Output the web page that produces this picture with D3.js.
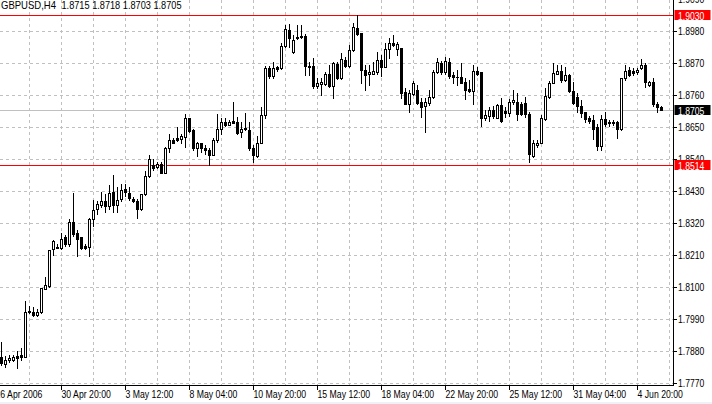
<!DOCTYPE html>
<html><head><meta charset="utf-8">
<script src="https://cdn.jsdelivr.net/npm/d3@7"></script>
<style>
html,body{margin:0;padding:0;background:#fff;overflow:hidden}
svg{display:block}
text{font-family:"Liberation Sans",Arial,sans-serif;font-size:11px}
</style></head><body>
<svg id="c" width="712" height="404"></svg>
<script>
const symbol = "GBPUSD,H4";
const opens = [1.7856,1.7833,1.7844,1.7846,1.7859,1.7861,1.7856,1.8015,1.8009,1.7999,
1.8010,1.8090,1.8098,1.8225,1.8232,1.8231,1.8267,1.8243,1.8318,1.8281,
1.8267,1.8236,1.8234,1.8331,1.8364,1.8379,1.8393,1.8375,1.8422,1.8379,
1.8399,1.8431,1.8420,1.8398,1.8390,1.8364,1.8414,1.8477,1.8514,1.8509,
1.8520,1.8488,1.8572,1.8600,1.8608,1.8603,1.8612,1.8675,1.8635,1.8572,
1.8589,1.8574,1.8566,1.8550,1.8600,1.8640,1.8662,1.8654,1.8667,1.8663,
1.8628,1.8640,1.8635,1.8575,1.8546,1.8592,1.8686,1.8847,1.8821,1.8850,
1.8847,1.8923,1.8978,1.8904,1.8956,1.8953,1.8959,1.8855,1.8855,1.8786,
1.8793,1.8793,1.8829,1.8786,1.8862,1.8812,1.8875,1.8856,1.8910,1.8984,
1.8967,1.8841,1.8826,1.8829,1.8835,1.8875,1.8852,1.8912,1.8935,1.8912,
1.8915,1.8766,1.8724,1.8758,1.8772,1.8732,1.8717,1.8729,1.8747,1.8835,
1.8866,1.8835,1.8870,1.8824,1.8818,1.8818,1.8801,1.8777,1.8770,1.8837,
1.8835,1.8675,1.8683,1.8703,1.8678,1.8721,1.8700,1.8692,1.8730,1.8732,
1.8726,1.8729,1.8690,1.8545,1.8585,1.8592,1.8672,1.8749,1.8797,1.8829,
1.8839,1.8807,1.8824,1.8770,1.8749,1.8717,1.8698,1.8675,1.8669,1.8644,
1.8580,1.8672,1.8658,1.8663,1.8663,1.8637,1.8812,1.8841,1.8837,1.8835,
1.8847,1.8858,1.8789,1.8799,1.8724,1.8715];
const highs = [1.7909,1.7858,1.7864,1.7864,1.7878,1.7888,1.8048,1.8031,1.8027,1.8021,
1.8094,1.8131,1.8222,1.8259,1.8245,1.8282,1.8274,1.8328,1.8419,1.8291,
1.8268,1.8243,1.8333,1.8394,1.8393,1.8423,1.8415,1.8446,1.8480,1.8438,
1.8449,1.8449,1.8438,1.8406,1.8399,1.8417,1.8495,1.8549,1.8537,1.8526,
1.8526,1.8577,1.8623,1.8606,1.8646,1.8623,1.8690,1.8678,1.8640,1.8595,
1.8592,1.8583,1.8575,1.8606,1.8690,1.8678,1.8675,1.8669,1.8732,1.8680,
1.8663,1.8695,1.8663,1.8583,1.8614,1.8715,1.8855,1.8856,1.8867,1.8856,
1.8935,1.8996,1.8999,1.8961,1.8996,1.8996,1.8965,1.8870,1.8881,1.8812,
1.8812,1.8835,1.8858,1.8870,1.8870,1.8898,1.8887,1.8927,1.9004,1.9030,
1.8969,1.8858,1.8858,1.8870,1.8904,1.8892,1.8933,1.8950,1.8961,1.8936,
1.8915,1.8778,1.8772,1.8804,1.8789,1.8744,1.8744,1.8772,1.8841,1.8881,
1.8873,1.8887,1.8881,1.8835,1.8841,1.8864,1.8812,1.8807,1.8858,1.8852,
1.8835,1.8703,1.8715,1.8717,1.8726,1.8744,1.8715,1.8741,1.8774,1.8763,
1.8732,1.8749,1.8698,1.8600,1.8600,1.8686,1.8778,1.8804,1.8866,1.8858,
1.8858,1.8850,1.8829,1.8801,1.8761,1.8738,1.8698,1.8683,1.8686,1.8655,
1.8686,1.8698,1.8669,1.8669,1.8666,1.8812,1.8858,1.8852,1.8847,1.8847,
1.8878,1.8864,1.8804,1.8812,1.8732,1.8718];
const lows = [1.7830,1.7821,1.7838,1.7842,1.7819,1.7844,1.7856,1.8007,1.7998,1.7998,
1.8008,1.8088,1.8096,1.8205,1.8231,1.8228,1.8238,1.8236,1.8270,1.8202,
1.8225,1.8228,1.8202,1.8307,1.8348,1.8371,1.8352,1.8365,1.8354,1.8354,
1.8391,1.8408,1.8394,1.8387,1.8333,1.8362,1.8412,1.8473,1.8499,1.8505,
1.8486,1.8486,1.8560,1.8589,1.8598,1.8589,1.8577,1.8629,1.8566,1.8546,
1.8560,1.8552,1.8514,1.8549,1.8595,1.8623,1.8650,1.8652,1.8658,1.8623,
1.8612,1.8635,1.8568,1.8526,1.8543,1.8589,1.8678,1.8812,1.8812,1.8839,
1.8843,1.8921,1.8921,1.8898,1.8946,1.8950,1.8824,1.8824,1.8781,1.8778,
1.8755,1.8789,1.8784,1.8744,1.8809,1.8809,1.8852,1.8852,1.8907,1.8961,
1.8797,1.8772,1.8789,1.8827,1.8829,1.8820,1.8850,1.8881,1.8923,1.8892,
1.8744,1.8724,1.8698,1.8755,1.8726,1.8680,1.8629,1.8721,1.8744,1.8832,
1.8827,1.8829,1.8812,1.8795,1.8789,1.8795,1.8740,1.8766,1.8726,1.8824,
1.8648,1.8669,1.8667,1.8675,1.8675,1.8663,1.8680,1.8683,1.8726,1.8669,
1.8686,1.8680,1.8526,1.8543,1.8577,1.8589,1.8669,1.8744,1.8795,1.8827,
1.8801,1.8804,1.8766,1.8726,1.8698,1.8680,1.8663,1.8660,1.8603,1.8568,
1.8566,1.8648,1.8648,1.8652,1.8609,1.8635,1.8807,1.8820,1.8824,1.8827,
1.8843,1.8784,1.8786,1.8717,1.8698,1.8703];
const closes = [1.7835,1.7844,1.7852,1.7856,1.7853,1.7856,1.8012,1.8009,1.7999,1.8012,
1.8092,1.8102,1.8222,1.8255,1.8231,1.8261,1.8245,1.8321,1.8277,1.8261,
1.8230,1.8230,1.8331,1.8362,1.8380,1.8393,1.8373,1.8420,1.8379,1.8396,
1.8430,1.8423,1.8400,1.8390,1.8365,1.8415,1.8478,1.8537,1.8506,1.8518,
1.8488,1.8572,1.8600,1.8591,1.8600,1.8614,1.8675,1.8632,1.8572,1.8589,
1.8572,1.8566,1.8549,1.8600,1.8640,1.8663,1.8653,1.8664,1.8660,1.8625,
1.8639,1.8641,1.8572,1.8549,1.8592,1.8686,1.8847,1.8820,1.8847,1.8843,
1.8923,1.8981,1.8950,1.8944,1.8950,1.8959,1.8855,1.8852,1.8786,1.8795,
1.8799,1.8829,1.8786,1.8864,1.8812,1.8878,1.8856,1.8910,1.8988,1.8965,
1.8841,1.8824,1.8835,1.8837,1.8875,1.8852,1.8912,1.8935,1.8928,1.8930,
1.8761,1.8726,1.8761,1.8795,1.8729,1.8715,1.8732,1.8747,1.8835,1.8870,
1.8835,1.8872,1.8821,1.8816,1.8816,1.8797,1.8772,1.8770,1.8837,1.8829,
1.8675,1.8686,1.8703,1.8683,1.8721,1.8667,1.8692,1.8730,1.8738,1.8690,
1.8690,1.8690,1.8554,1.8592,1.8592,1.8675,1.8752,1.8797,1.8832,1.8839,
1.8807,1.8824,1.8770,1.8729,1.8717,1.8694,1.8672,1.8667,1.8638,1.8580,
1.8672,1.8655,1.8663,1.8658,1.8637,1.8812,1.8839,1.8824,1.8832,1.8841,
1.8858,1.8799,1.8801,1.8724,1.8713,1.8705];
const priceTicks = [1.7770,1.7880,1.7990,1.8100,1.8210,1.8320,1.8430,1.8540,1.8650,1.8760,1.8870,1.8980,1.9090];
const timeTickBars = [15,31,47,63,79,95,111,127,143,159];
const timeTickLabels = ["30 Apr 20:00","3 May 12:00","8 May 04:00","10 May 20:00","15 May 12:00","18 May 04:00","22 May 20:00","25 May 12:00","31 May 04:00","4 Jun 20:00"];
const firstDateLabel = "26 Apr 2006";
const gridBars = [7,15,23,31,39,47,55,63,71,79,87,95,103,111,119,127,135,143,151,159,167];
const levelLines = [1.9030, 1.8514];
const bidPrice = 1.8705;

const svg = d3.select("#c");
const n = opens.length;
const x = d3.scaleLinear().domain([0, n - 1]).range([1.5, 1.5 + 4 * (n - 1)]);
const y = d3.scaleLinear().domain([1.7770, 1.9030]).range([382.5, 15.5]);
const yAxisScale = y.copy().range([383, 16]).interpolate(d3.interpolateRound);
const xAxisScale = x.copy().range([1, 4 * (n - 1) + 1]);
const plotRight = 673, axisY = 385;
const fmt = d3.format(".4f");

function squeeze(sel, k) {
  sel.each(function () {
    const w = this.getComputedTextLength();
    d3.select(this).attr("textLength", (w * k).toFixed(1)).attr("lengthAdjust", "spacingAndGlyphs");
  });
}

svg.append("rect").attr("width",712).attr("height",404).attr("fill","#fff");

// grid
const grid = svg.append("g").attr("stroke","#c0c0c0").attr("stroke-dasharray","3,3").attr("shape-rendering","crispEdges");
grid.selectAll(".gx").data(gridBars).join("line").attr("class","gx")
  .attr("x1", d => xAxisScale(d) + 0.5).attr("x2", d => xAxisScale(d) + 0.5)
  .attr("y1", 0).attr("y2", axisY);
grid.selectAll(".gy").data(priceTicks).join("line").attr("class","gy")
  .attr("x1", 0).attr("x2", plotRight)
  .attr("y1", d => yAxisScale(d) + 0.5).attr("y2", d => yAxisScale(d) + 0.5);

// level lines & bid line
const pixRow = v => Math.round(y(v) - 0.5) + 0.5;
svg.append("g").attr("class","levels").selectAll("line").data(levelLines).join("line")
  .attr("x1",0).attr("x2",plotRight).attr("y1",d => pixRow(d)).attr("y2",d => pixRow(d))
  .style("stroke","#ff0000").style("stroke-width","1px").attr("shape-rendering","crispEdges");
svg.append("line").attr("x1",0).attr("x2",plotRight)
  .attr("y1",pixRow(bidPrice)).attr("y2",pixRow(bidPrice))
  .style("stroke","#c0c0c0").attr("shape-rendering","crispEdges");

// candles
const bars = d3.range(n).map(i => ({i, o: opens[i], h: highs[i], l: lows[i], c: closes[i]}));
const cg = svg.append("g").attr("shape-rendering","crispEdges");
const py = v => Math.round(y(v) - 0.5);
cg.selectAll(".wick").data(bars).join("line").attr("class","wick")
  .attr("x1", d => x(d.i)).attr("x2", d => x(d.i))
  .attr("y1", d => py(d.h)).attr("y2", d => py(d.l) + 1)
  .attr("stroke","#000");
cg.selectAll(".body").data(bars).join("rect").attr("class","body")
  .each(function(d){
    const top = py(Math.max(d.o, d.c)), bot = py(Math.min(d.o, d.c));
    const s = d3.select(this);
    if (d.c >= d.o && bot > top) {
      s.attr("x", x(d.i) - 1).attr("y", top + 0.5).attr("width", 2).attr("height", bot - top)
       .attr("fill","#fff").attr("stroke","#000");
    } else {
      s.attr("x", x(d.i) - 1.5).attr("y", top).attr("width", 3).attr("height", bot - top + 1)
       .attr("fill","#000");
    }
  });

// axes lines
svg.append("line").attr("x1",plotRight+0.5).attr("x2",plotRight+0.5).attr("y1",0).attr("y2",axisY+1)
  .attr("stroke","#000").attr("shape-rendering","crispEdges");
svg.append("line").attr("x1",0).attr("x2",plotRight+1).attr("y1",axisY+0.5).attr("y2",axisY+0.5)
  .attr("stroke","#000").attr("shape-rendering","crispEdges");

// right axis
const ya = svg.append("g").attr("transform",`translate(${plotRight+1},0)`)
  .call(d3.axisRight(yAxisScale).tickValues(priceTicks).tickFormat(fmt).tickSize(3).tickPadding(1));
ya.select(".domain").remove();
ya.selectAll("line").attr("stroke","#000").attr("shape-rendering","crispEdges");
ya.selectAll("text").attr("fill","#000").style("font-size","11px").style("font-family","Liberation Sans, Arial, sans-serif");
squeeze(ya.selectAll("text"), 0.78);

// bottom axis
const xa = svg.append("g").attr("transform",`translate(0,${axisY+1})`)
  .call(d3.axisBottom(xAxisScale).tickValues(timeTickBars).tickFormat((d,k) => timeTickLabels[k]).tickSize(4).tickPadding(0));
xa.select(".domain").remove();
xa.selectAll("line").attr("stroke","#000").attr("shape-rendering","crispEdges");
xa.selectAll("text").attr("fill","#000").attr("text-anchor","start").attr("dx",0)
  .style("font-size","11px").style("font-family","Liberation Sans, Arial, sans-serif");
squeeze(xa.selectAll("text"), 0.79);
const fl = svg.append("text").attr("x", x(-1.5)).attr("y", 397.5).attr("fill","#000").text(firstDateLabel);
squeeze(fl, 0.79);

// price boxes
const boxes = levelLines.map(v => ({v, fill:"#ff0000"})).concat([{v: bidPrice, fill:"#000"}]);
const bg = svg.append("g");
bg.selectAll("rect").data(boxes).join("rect")
  .attr("x", plotRight+1.5).attr("y", d => pixRow(d.v) - 5.5).attr("width", 36).attr("height", 10)
  .attr("fill", d => d.fill);
const bt = bg.selectAll("text").data(boxes).join("text")
  .attr("x", plotRight+5).attr("y", d => pixRow(d.v) + 4)
  .attr("fill","#fff").text(d => fmt(d.v));
squeeze(bt, 0.78);

// header
const h1 = svg.append("text").attr("x",1).attr("y",9).attr("fill","#000").text(symbol);
squeeze(h1, 0.865);
const h2 = svg.append("text").attr("x",61.5).attr("y",9).attr("fill","#000")
  .text([opens[n-1], highs[n-1], lows[n-1], closes[n-1]].map(fmt).join(" "));
squeeze(h2, 0.835);

// bottom strip
svg.append("rect").attr("x",0).attr("y",402).attr("width",712).attr("height",2).attr("fill","#eef2f6");
</script>
</body></html>
